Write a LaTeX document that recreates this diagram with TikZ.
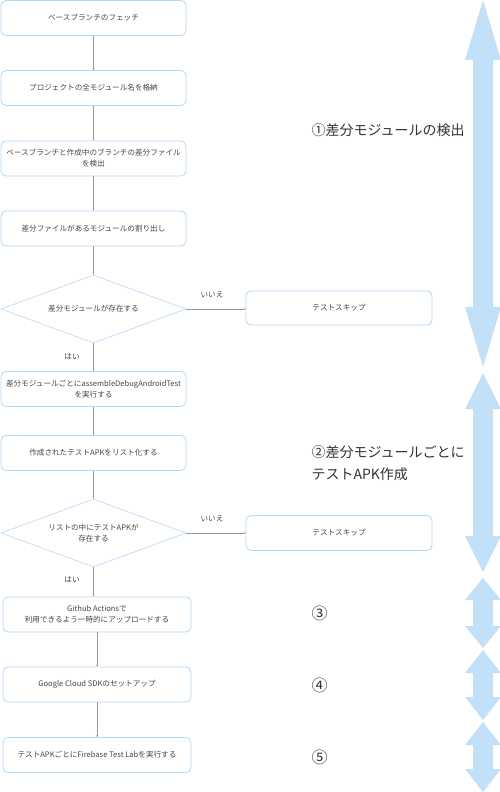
\documentclass[tikz,border=0pt]{standalone}
\usepackage{fontspec}
\setmainfont{Noto Sans CJK JP}
\usetikzlibrary{shapes.geometric,arrows.meta}
\definecolor{boxblue}{HTML}{B3D8F6}
\definecolor{arrowblue}{HTML}{C2E1F9}
\definecolor{textgray}{HTML}{444444}
\definecolor{linegray}{HTML}{999999}

%% Doppelpfeil rechts: oben, unten, Spitzenlaenge
\newcommand{\phasearrow}[3]{%
	\fill[arrowblue] (483,#1) -- (501,#1+#3) -- (493,#1+#3) -- (493,#2-#3) -- (501,#2-#3)
		-- (483,#2) -- (465,#2-#3) -- (473,#2-#3) -- (473,#1+#3) -- (465,#1+#3) -- cycle;}

\begin{document}
\begin{tikzpicture}[x=1pt, y=-1pt,
	box/.style={draw=boxblue, line width=0.8pt, rounded corners=5pt, minimum width=185pt,
		minimum height=35pt, inner sep=1pt, align=center, text=textgray,
		font=\fontsize{7.6}{11}\selectfont},
	decision/.style={diamond, draw=boxblue, line width=0.6pt, minimum width=185pt,
		minimum height=68pt, aspect=2.7, inner sep=0pt, align=center, text=textgray,
		font=\fontsize{7.6}{11}\selectfont},
	flow/.style={draw=linegray, line width=0.4pt, -{Stealth[length=2pt,width=2pt]}},
	lbl/.style={text=textgray, font=\fontsize{7.6}{11}\selectfont},
	phase/.style={anchor=west, align=left, text=black!80, font=\fontsize{14}{22}\selectfont}]
\useasboundingbox (0,0) rectangle (500,792);

	%% Ablauf
	\node[box] (fetch) at (93.5,18) {ベースブランチのフェッチ};
	\node[box] (store) at (93.5,88) {プロジェクトの全モジュール名を格納};
	\node[box] (diff) at (93.5,158.5) {ベースブランチと作成中のブランチの差分ファイル\\を検出};
	\node[box] (pick) at (93.5,228.5) {差分ファイルがあるモジュールの割り出し};
	\node[decision] (exists) at (93.5,309) {差分モジュールが存在する};
	\node[box, minimum width=186pt, minimum height=34pt] (skipA) at (339,308) {テストスキップ};
	\node[box] (assemble) at (93.5,389) {差分モジュールごとにassembleDebugAndroidTest\\を実行する};
	\node[box] (list) at (93.5,453) {作成されたテストAPKをリスト化する};
	\node[decision] (apk) at (93.5,533) {リストの中にテストAPKが\\存在する};
	\node[box, minimum width=186pt] (skipB) at (339,533) {テストスキップ};
	\node[box, minimum width=188pt] (upload) at (97,614.5) {Github Actionsで\\利用できるよう一時的にアップロードする};
	\node[box, minimum width=188pt] (gcloud) at (97,684.5) {Google Cloud SDKのセットアップ};
	\node[box, minimum width=188pt] (firebase) at (97,755) {テストAPKごとにFirebase Test Labを実行する};

	\draw[flow] (fetch) -- (store);
	\draw[flow] (store) -- (diff);
	\draw[flow] (diff) -- (pick);
	\draw[flow] (pick) -- (exists);
	\draw[flow] (exists.east) -- (skipA.west |- exists.east);
	\draw[flow] (exists) -- (assemble);
	\draw[flow] (assemble) -- (list);
	\draw[flow] (list) -- (apk);
	\draw[flow] (apk.east) -- (skipB.west |- apk.east);
	\draw[flow] (apk.south) -- (apk.south |- upload.north);
	\draw[flow] (upload) -- (gcloud);
	\draw[flow] (gcloud) -- (firebase);

	\node[lbl] (noA) at (212,295) {いいえ};
	\node[lbl] (yesA) at (72,357) {はい};
	\node[lbl] (noB) at (212,519) {いいえ};
	\node[lbl] (yesB) at (72,580) {はい};

	%%%%%%%%%%%%%%%%

	%% Phasen
	\node[phase] (phase1) at (308,130) {①差分モジュールの検出};
	\node[phase] (phase2) at (308,463) {②差分モジュールごとに\\テストAPK作成};
	\node[phase, font=\fontsize{16}{22}\selectfont] (phase3) at (308,613) {③};
	\node[phase, font=\fontsize{16}{22}\selectfont] (phase4) at (308,685) {④};
	\node[phase, font=\fontsize{16}{22}\selectfont] (phase5) at (308,757) {⑤};

	\phasearrow{0}{367}{60}
	\phasearrow{373}{572}{36}
	\phasearrow{578}{648}{22}
	\phasearrow{650}{720}{23}
	\phasearrow{722}{792}{23}
\end{tikzpicture}
\end{document}
